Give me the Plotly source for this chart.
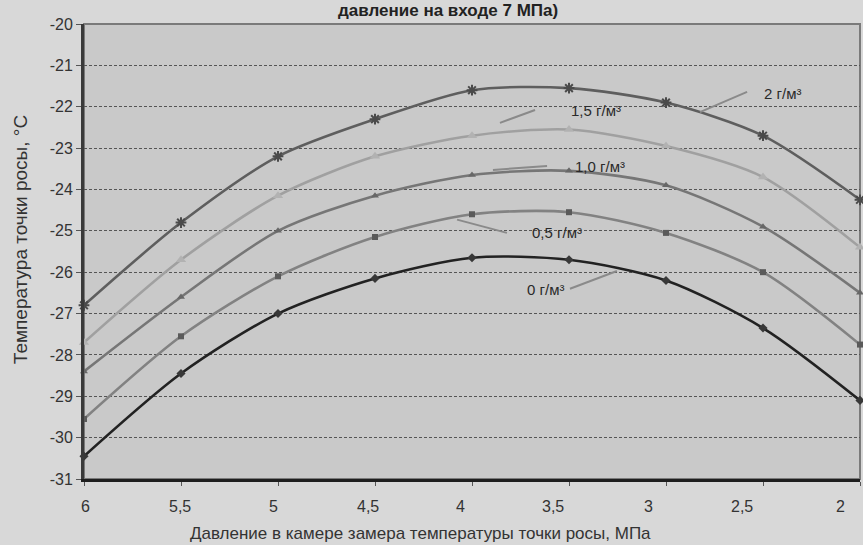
import plotly.graph_objects as go

# Pressure in the dew-point measuring chamber, MPa
pressure = [6, 5.5, 5, 4.5, 4, 3.5, 3, 2.5, 2]

# Dew-point temperature, °C, for each moisture content
t_2_0 = [-26.8, -24.8, -23.2, -22.3, -21.6, -21.55, -21.9, -22.7, -24.25]
t_1_5 = [-27.7, -25.7, -24.15, -23.2, -22.7, -22.55, -22.95, -23.7, -25.4]
t_1_0 = [-28.4, -26.6, -25.0, -24.15, -23.65, -23.55, -23.9, -24.9, -26.5]
t_0_5 = [-29.55, -27.55, -26.1, -25.15, -24.6, -24.55, -25.05, -26.0, -27.75]
t_0_0 = [-30.45, -28.45, -27.0, -26.15, -25.65, -25.7, -26.2, -27.35, -29.1]

x_ticks = [6, 5.5, 5, 4.5, 4, 3.5, 3, 2.5, 2]
x_tick_text = ["6", "5,5", "5", "4,5", "4", "3,5", "3", "2,5", "2"]
y_ticks = list(range(-31, -19))
y_tick_text = [str(v) for v in y_ticks]

series = [
    ("2 г/м³", t_2_0, "#5e5e5e", "asterisk-open", 9, "#4a4a4a"),
    ("1,5 г/м³", t_1_5, "#a0a0a0", "triangle-up", 9, "#b2b2b2"),
    ("1,0 г/м³", t_1_0, "#767676", "triangle-up", 7, "#676767"),
    ("0,5 г/м³", t_0_5, "#828282", "square", 6, "#5a5a5a"),
    ("0 г/м³", t_0_0, "#222222", "diamond", 7, "#383838"),
]

fig = go.Figure()
for name, temps, color, symbol, size, mcol in series:
    fig.add_trace(go.Scatter(
        x=pressure, y=temps, name=name, mode="lines+markers",
        line=dict(color=color, width=2.6, shape="spline", smoothing=0.8),
        marker=dict(symbol=symbol, size=size, color=mcol,
                    line=dict(color=mcol, width=2 if "asterisk" in symbol else 0)),
        showlegend=False, cliponaxis=False,
    ))

font_family = "Liberation Sans, Arial, sans-serif"
text_color = "#333333"

# Curve labels with short leader lines
labels = [
    ("2 г/м³", 2.4, -21.67, (2.825, -22.13), (2.582, -21.64)),
    ("1,5 г/м³", 3.36, -22.1, (3.856, -22.39), (3.675, -22.08)),
    ("1,0 г/м³", 3.34, -23.45, (3.892, -23.53), (3.613, -23.43)),
    ("0,5 г/м³", 3.56, -25.05, (4.077, -24.73), (3.82, -25.05)),
    ("0 г/м³", 3.62, -26.43, (3.495, -26.4), (3.253, -25.97)),
]
for text, lx, ly, p0, p1 in labels:
    fig.add_annotation(x=lx, y=ly, text=text, showarrow=False,
                       font=dict(family=font_family, size=15, color="#2a2a2a"),
                       xanchor="center", yanchor="middle")
    fig.add_shape(type="line", x0=p0[0], y0=p0[1], x1=p1[0], y1=p1[1],
                  line=dict(color="#8a8a8a", width=2))

# Category labels along the pressure axis
label_shift = [1, -1, -5, -7, -12, -16, -18, -21, -20]
for val, txt, dx in zip(x_ticks, x_tick_text, label_shift):
    fig.add_annotation(x=val, y=0, yref="paper", text=txt, showarrow=False,
                       xanchor="center", yanchor="top", yshift=-17, xshift=dx,
                       font=dict(family=font_family, size=16, color=text_color))

# Plot-area frame (lighter top/right edges)
fig.add_shape(type="rect", xref="paper", yref="paper", x0=0, y0=0, x1=1, y1=1,
              line=dict(color="#7a7a7a", width=2), layer="below")

fig.add_annotation(xref="paper", yref="paper", x=0.469, y=1.0, yshift=24,
                   text="<b>давление на входе 7 МПа)</b>", showarrow=False,
                   font=dict(family=font_family, size=17, color="#222222"),
                   xanchor="center", yanchor="top", borderpad=0)

fig.add_annotation(xref="paper", yref="paper", x=0.433, y=0, yshift=-54,
                   text="Давление в камере замера температуры точки росы, МПа",
                   showarrow=False, xanchor="center", yanchor="middle",
                   font=dict(family=font_family, size=17, color=text_color))

fig.add_annotation(xref="paper", yref="paper", x=0, xshift=-64, y=0.525,
                   text="Температура точки росы, °C", textangle=-90,
                   showarrow=False, xanchor="center", yanchor="middle",
                   font=dict(family=font_family, size=19, color=text_color))

fig.update_layout(
    width=863, height=545,
    margin=dict(l=84, r=3, t=24, b=66),
    paper_bgcolor="#d8d8d8",
    plot_bgcolor="#c9c9c9",
    font=dict(family=font_family, size=16, color=text_color),
    xaxis=dict(
        range=[6, 2], tickvals=x_ticks, showticklabels=False,
        showgrid=False, zeroline=False,
        showline=True, linecolor="#1e1e1e", linewidth=3,
        ticks="outside", ticklen=4, tickcolor="#555555",
    ),
    yaxis=dict(
        range=[-31, -20], tickvals=y_ticks, ticktext=y_tick_text,
        showgrid=True, gridcolor="#555555", griddash="3px,2px", gridwidth=1.2,
        zeroline=False,
        showline=True, linecolor="#3a3a3a", linewidth=3,
        ticks="outside", ticklen=5, tickcolor="#555555",
    ),
)

fig.write_html("out.html")
